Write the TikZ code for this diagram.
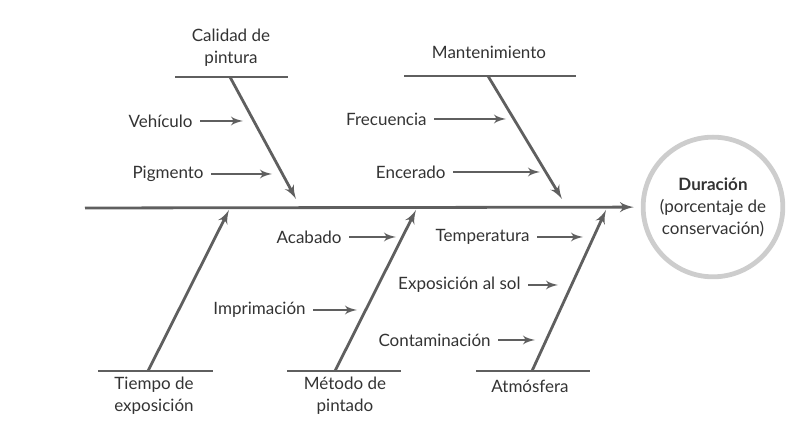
\documentclass[tikz,border=0pt]{standalone}
\usepackage{fontspec}
\setmainfont{Lato}
\usetikzlibrary{arrows,positioning}
\definecolor{bonegray}{HTML}{5F5F5F}
\definecolor{ringgray}{HTML}{CDCDCD}

\begin{document}
\begin{tikzpicture}[
    x=0.5pt, y=-0.5pt,
    >=latex',
    font=\fontsize{8.5}{11}\selectfont,
    cause/.style={
		align=center,
		text=black!80,
		inner sep=1pt
	},
	sub/.style={
		text=black!80,
		inner sep=3.5pt
	},
	bone/.style={
		draw=bonegray,
		line width=1.4pt
	},
	twig/.style={
		draw=bonegray,
		line width=1.1pt,
		->
	}
  ]
  \useasboundingbox (0,0) rectangle (800,431);

  % effect
  \node [circle, draw=ringgray, line width=2.4pt, minimum size=68pt, align=center,
         text=black!80] (effect) at (713,207)
    {\textbf{Duración}\\(porcentaje de\\conservación)};
  \coordinate (tail) at (85,208);
  \draw [bone,->, shorten >=3.5pt] (tail) -- (effect);

  % top causes
  \node [cause] (calidad) at (231,48) {Calidad de\\pintura};
  \coordinate (calL) at (175,77);
  \coordinate (calR) at (288,77);
  \coordinate (calB) at (230,77);
  \coordinate (calT) at (296,199);
  \draw [bone] (calL) -- (calR);
  \draw [bone,->] (calB) -- (calT);

  \node [cause] (mant) at (489,52) {Mantenimiento};
  \coordinate (manL) at (404,76);
  \coordinate (manR) at (576,76);
  \coordinate (manB) at (488,76);
  \coordinate (manT) at (562,199);
  \draw [bone] (manL) -- (manR);
  \draw [bone,->] (manB) -- (manT);

  % bottom causes
  \node [cause] (tiempo) at (154,396) {Tiempo de\\exposición};
  \coordinate (tieL) at (98,371);
  \coordinate (tieR) at (213,371);
  \coordinate (tieB) at (148,371);
  \coordinate (tieT) at (229,210);
  \draw [bone] (tieL) -- (tieR);
  \draw [bone,->] (tieB) -- (tieT);

  \node [cause] (metodo) at (345,396) {Método de\\pintado};
  \coordinate (metL) at (287,371);
  \coordinate (metR) at (401,371);
  \coordinate (metB) at (335,371);
  \coordinate (metT) at (416,210);
  \draw [bone] (metL) -- (metR);
  \draw [bone,->] (metB) -- (metT);

  \node [cause] (atmos) at (530,386) {Atmósfera};
  \coordinate (atmL) at (476,371);
  \coordinate (atmR) at (590,371);
  \coordinate (atmB) at (532,371);
  \coordinate (atmT) at (606,210);
  \draw [bone] (atmL) -- (atmR);
  \draw [bone,->] (atmB) -- (atmT);

  % sub causes
  \node [sub, anchor=east] (vehiculo) at (200,121) {Vehículo};
  \coordinate (vehT) at (243,121);
  \draw [twig] (vehiculo) -- (vehT);

  \node [sub, anchor=east] (pigmento) at (211,174) {Pigmento};
  \coordinate (pigT) at (272,174);
  \draw [twig] (pigmento) -- (pigT);

  \node [sub, anchor=east] (frecuencia) at (434,119) {Frecuencia};
  \coordinate (freT) at (506,119);
  \draw [twig] (frecuencia) -- (freT);

  \node [sub, anchor=east] (encerado) at (453,172) {Encerado};
  \coordinate (encT) at (540,172);
  \draw [twig] (encerado) -- (encT);

  \node [sub, anchor=east] (acabado) at (349,237) {Acabado};
  \coordinate (acaT) at (396,237);
  \draw [twig] (acabado) -- (acaT);

  \node [sub, anchor=east] (imprimacion) at (313,310) {Imprimación};
  \coordinate (impT) at (357,310);
  \draw [twig] (imprimacion) -- (impT);

  \node [sub, anchor=east] (temperatura) at (537,237) {Temperatura};
  \coordinate (temT) at (583,237);
  \draw [twig] (temperatura) -- (temT);

  \node [sub, anchor=east] (sol) at (528,285) {Exposición al sol};
  \coordinate (solT) at (558,285);
  \draw [twig] (sol) -- (solT);

  \node [sub, anchor=east] (contam) at (498,340) {Contaminación};
  \coordinate (conT) at (535,340);
  \draw [twig] (contam) -- (conT);

\end{tikzpicture}
\end{document}
